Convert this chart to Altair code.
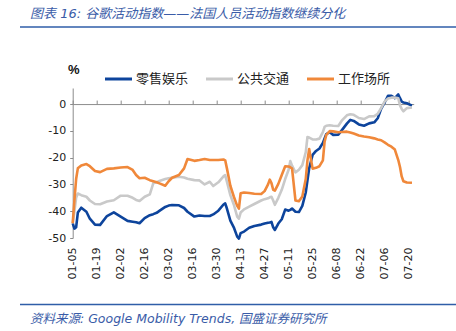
import altair as alt
import pandas as pd

# ---- data (2021, 7-day smoothed, %) ----
dates = [
    "2021-01-05", "2021-01-06", "2021-01-07", "2021-01-08", "2021-01-10", "2021-01-13",
    "2021-01-15", "2021-01-18", "2021-01-21", "2021-01-25", "2021-01-29", "2021-02-02",
    "2021-02-06", "2021-02-09", "2021-02-11", "2021-02-13", "2021-02-16", "2021-02-19",
    "2021-02-21", "2021-02-23", "2021-02-25", "2021-02-28", "2021-03-02", "2021-03-04",
    "2021-03-08", "2021-03-11", "2021-03-13", "2021-03-17", "2021-03-20", "2021-03-23",
    "2021-03-26", "2021-03-28", "2021-03-31", "2021-04-03", "2021-04-04", "2021-04-05",
    "2021-04-07", "2021-04-09", "2021-04-11", "2021-04-12", "2021-04-13", "2021-04-15",
    "2021-04-18", "2021-04-21", "2021-04-25", "2021-04-27", "2021-04-29", "2021-04-30",
    "2021-05-01", "2021-05-02", "2021-05-03", "2021-05-05", "2021-05-07", "2021-05-09",
    "2021-05-11", "2021-05-12", "2021-05-13", "2021-05-15", "2021-05-17", "2021-05-19",
    "2021-05-21", "2021-05-22", "2021-05-23", "2021-05-25", "2021-05-27", "2021-05-29",
    "2021-05-31", "2021-06-01", "2021-06-02", "2021-06-04", "2021-06-06", "2021-06-09",
    "2021-06-11", "2021-06-14", "2021-06-16", "2021-06-18", "2021-06-21", "2021-06-24",
    "2021-06-27", "2021-06-30", "2021-07-02", "2021-07-04", "2021-07-06", "2021-07-08",
    "2021-07-10", "2021-07-12", "2021-07-14", "2021-07-15", "2021-07-16", "2021-07-17",
    "2021-07-19", "2021-07-22",
]

retail = [
    -44.5, -46.5, -46.0, -40.5, -38.7, -40.2,
    -42.8, -45.0, -45.1, -41.8, -40.4, -42.0,
    -43.6, -43.9, -44.1, -44.5, -42.6, -41.5,
    -41.1, -40.6, -39.7, -38.4, -37.9, -37.7,
    -37.8, -38.8, -40.2, -42.0, -41.6, -41.8,
    -41.8, -41.2, -39.8, -37.5, -37.1, -39.0,
    -43.5, -46.0, -49.5, -50.2, -48.2, -47.6,
    -46.2, -45.5, -45.0, -44.6, -44.3, -44.2,
    -44.0, -46.0, -47.0, -44.6, -43.0, -39.4,
    -39.8, -39.5, -39.0, -40.2, -40.3, -38.0,
    -33.0, -28.5, -24.0, -19.0, -17.5, -16.6,
    -14.5, -12.8, -11.2, -10.5, -11.5, -11.4,
    -9.8, -7.3, -5.9, -6.3, -7.6, -8.1,
    -7.2, -6.8, -5.3, -1.8, 0.5, 3.1,
    3.1, 2.2, 3.6, 2.2, 0.9, 0.6,
    0.3, -0.6,
]

transit = [
    -44.5, -40.0, -35.0, -33.4, -34.0, -34.6,
    -36.0, -37.3, -37.4, -36.4, -35.9, -34.2,
    -34.2, -35.0, -35.8, -36.2, -34.6, -33.7,
    -29.6, -29.2, -28.6, -28.0, -27.7, -27.5,
    -27.1, -27.4, -27.9, -28.4, -28.5, -30.0,
    -29.0, -30.6, -29.2, -27.0, -26.5, -29.0,
    -34.0, -37.5, -42.0, -42.8, -40.5, -39.3,
    -38.3, -37.3, -36.0, -35.5, -35.2, -34.8,
    -34.6, -36.0, -37.6, -35.0, -32.0, -28.0,
    -24.5, -21.3, -23.0, -25.5, -24.5, -22.8,
    -18.0, -12.3, -12.5, -13.2, -13.2, -12.9,
    -10.5, -8.5, -8.1, -7.9, -8.1, -8.2,
    -6.2, -4.2, -3.8, -4.0, -5.2, -5.6,
    -4.6, -4.5, -3.6, -1.5, 0.9, 2.1,
    2.4, 2.4, 2.2, -0.5, -1.8, -2.7,
    -1.5, -1.3,
]

workplace = [
    -44.5, -36.0, -28.0, -24.0, -22.9, -22.4,
    -23.2, -25.0, -25.4, -24.2, -24.0, -23.7,
    -23.5, -24.6, -26.5, -27.7, -27.5, -28.4,
    -28.8, -29.2, -29.7, -30.5, -28.8, -27.5,
    -26.5, -24.0, -20.5, -21.2, -20.9, -20.5,
    -20.9, -20.9, -20.9, -20.7, -21.0, -24.0,
    -30.5, -34.5, -38.0, -39.0, -33.3, -33.0,
    -33.2, -33.5, -33.6, -32.5, -30.0, -28.2,
    -29.5, -32.0, -32.3, -29.8, -26.5, -23.2,
    -23.3, -23.6, -24.0, -36.0, -36.3, -34.5,
    -28.0, -21.0, -16.8, -24.1, -23.8, -23.2,
    -21.0, -14.0, -11.5, -10.1, -10.2, -10.5,
    -10.4, -10.3, -10.6, -11.0, -11.7, -12.1,
    -12.4, -12.8, -13.2, -13.5, -14.3, -15.2,
    -15.9, -17.0, -20.9, -23.5, -27.0, -28.8,
    -29.3, -29.4,
]

series_names = ["零售娱乐", "公共交通", "工作场所"]
series_colors = ["#0d449c", "#c9c9c9", "#f0883a"]
tick_dates = [
    "2021-01-05", "2021-01-19", "2021-02-02", "2021-02-16", "2021-03-02",
    "2021-03-16", "2021-03-30", "2021-04-13", "2021-04-27", "2021-05-11",
    "2021-05-25", "2021-06-08", "2021-06-22", "2021-07-06", "2021-07-20",
]
y_ticks = [0, -10, -20, -30, -40, -50]
x_domain = ["2021-01-05", "2021-07-23"]
y_domain = [-50, 6]

title_text = "图表 16:  谷歌活动指数——法国人员活动指数继续分化"
source_text = "资料来源:  Google Mobility Trends,  国盛证券研究所"
unit_text = "%"

# ---- build the table ----
df = pd.DataFrame({"date": dates, series_names[0]: retail,
                   series_names[1]: transit, series_names[2]: workplace})
long = df.melt(id_vars="date", var_name="series", value_name="value")
order_map = {"公共交通": 0, "工作场所": 1, "零售娱乐": 2}
long["z"] = long["series"].map(order_map)

W, H = 341, 150
PAD_L, PAD_T = 72.7, 88

def to_ms(s):
    return int(pd.Timestamp(s, tz="UTC").timestamp() * 1000)

tick_ms = [to_ms(d) for d in tick_dates]
xdom_ms = [to_ms(d) for d in x_domain]

xscale = alt.Scale(type="utc", domain=xdom_ms, nice=False)
yscale = alt.Scale(domain=y_domain, nice=False, zero=False)
FONT_NUM = "DejaVu Sans"
FONT_CJK = "Noto Sans CJK SC"

y_axis = alt.Axis(values=y_ticks, labelExpr="'' + datum.value",
                  grid=False, title=None, domainColor="#8c8c8c",
                  tickColor="#8c8c8c", tickSize=3, labelPadding=4,
                  labelFont=FONT_NUM, labelFontSize=11, labelColor="#222")

lines = alt.Chart(long).mark_line(strokeWidth=2.6, strokeJoin="round").encode(
    x=alt.X("date:T", scale=xscale,
            axis=alt.Axis(orient="bottom", values=tick_ms, format="%m-%d",
                          labelAngle=270, labelPadding=9, domain=False,
                          ticks=False, grid=False, title=None,
                          labelFont=FONT_NUM, labelFontSize=11,
                          labelColor="#222", labelOverlap=False)),
    y=alt.Y("value:Q", scale=yscale, axis=y_axis),
    color=alt.Color("series:N",
                    scale=alt.Scale(domain=series_names, range=series_colors),
                    legend=None),
    order=alt.Order("z:Q"),
)

zero_axis = alt.Chart(long).mark_line(opacity=0).encode(
    x=alt.X("date:T", scale=xscale,
            axis=alt.Axis(orient="top", values=tick_ms, labels=False,
                          offset=-(H * y_domain[1] / (y_domain[1] - y_domain[0])),
                          domainColor="#8c8c8c", tickColor="#8c8c8c",
                          tickSize=4, grid=False, title=None)),
    y=alt.Y("value:Q", scale=yscale, axis=y_axis),
    detail="series:N",
)

def text_layer(txt, x, y, size, color, italic=False, bold=False, font=FONT_CJK,
               baseline="middle"):
    kw = dict(align="left", baseline=baseline, fontSize=size, color=color,
              font=font)
    if italic:
        kw["fontStyle"] = "italic"
    if bold:
        kw["fontWeight"] = "bold"
    return alt.Chart(pd.DataFrame({"t": [txt]})).mark_text(**kw).encode(
        text="t:N", x=alt.value(x), y=alt.value(y))

def hrule(y, color, width):
    return alt.Chart(pd.DataFrame({"t": [0]})).mark_rule(
        color=color, strokeWidth=width).encode(
        x=alt.value(20 - PAD_L), x2=alt.value(456 - PAD_L), y=alt.value(y))

# legend: a short coloured line followed by the series name
legend_layers = []
LEG_X0, LEG_STEP, LEG_Y = 105, 101, 79
for i, (name, col) in enumerate(zip(series_names, series_colors)):
    x0 = LEG_X0 + i * LEG_STEP - PAD_L
    legend_layers.append(
        alt.Chart(pd.DataFrame({"t": [name]})).mark_rule(
            color=col, strokeWidth=3).encode(
            x=alt.value(x0), x2=alt.value(x0 + 27), y=alt.value(LEG_Y - PAD_T)))
    legend_layers.append(text_layer(name, x0 + 31, LEG_Y - PAD_T, 13, "#222"))

title = text_layer(title_text, 30 - PAD_L, 14 - PAD_T, 13, "#3a5ca8",
                   italic=True, font=f"{FONT_NUM}, {FONT_CJK}")
source = text_layer(source_text, 30 - PAD_L, 319 - PAD_T, 12.5, "#3a5ca8",
                    italic=True, font=f"{FONT_NUM}, {FONT_CJK}")
unit = text_layer(unit_text, 68 - PAD_L, 70 - PAD_T, 13, "#111", bold=True,
                  font="Liberation Sans")
rule_top = hrule(27 - PAD_T, "#2f5ea8", 1.6)
rule_bot = hrule(304.5 - PAD_T, "#2f5ea8", 1.6)

chart = alt.layer(
    zero_axis, lines, title, source, unit, rule_top, rule_bot, *legend_layers
).resolve_axis(x="independent").properties(
    width=W, height=H, autosize="none",
    padding={"left": PAD_L, "top": PAD_T, "right": 456 - PAD_L - W,
             "bottom": 331 - PAD_T - H},
    background="white",
).configure_view(stroke=None)

chart.save("out.html", embed_options={"renderer": "svg", "actions": False})
